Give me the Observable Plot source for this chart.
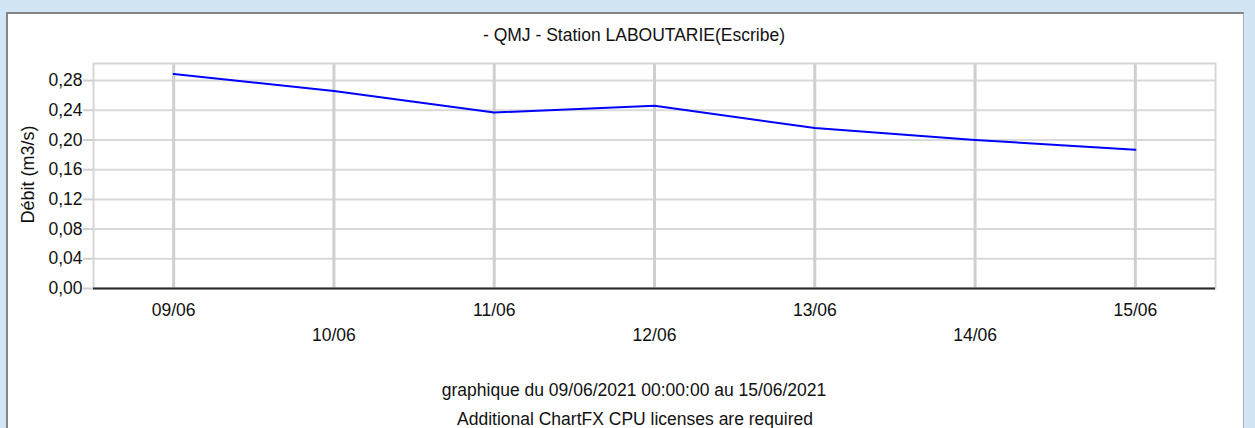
<!DOCTYPE html>
<html>
<head>
<meta charset="utf-8">
<script src="https://cdn.jsdelivr.net/npm/d3@7"></script>
<script src="https://cdn.jsdelivr.net/npm/@observablehq/plot@0.6"></script>
<style>
  html, body { margin: 0; padding: 0; }
  body { width: 1255px; height: 428px; background: #d1e5f4; position: relative; overflow: hidden;
         font-family: "Liberation Sans", Arial, sans-serif; color: #111; }
  #panel { position: absolute; left: 6px; top: 12px; width: 1238px; height: 430px; background: #fff;
           border-top: 2px solid #858585; border-left: 2px solid #858585; border-right: 1px solid #b0b0b0; box-sizing: border-box; }
  .txt { position: absolute; font-size: 17.5px; line-height: 20px; white-space: nowrap; transform: translateX(-50%); }
  #chart { position: absolute; left: 0; top: 50px; }
</style>
</head>
<body>
<div id="panel"></div>
<div class="txt" id="title" style="left:634px; top:25px;"></div>
<div id="chart"></div>
<div class="txt" id="foot1" style="left:634px; top:380px;"></div>
<div class="txt" id="foot2" style="left:635px; top:409px;"></div>
<script>
// ---- data ----
const titleText = "- QMJ - Station LABOUTARIE(Escribe)";
const yLabel = "Débit (m3/s)";
const footer1 = "graphique du 09/06/2021 00:00:00 au 15/06/2021";
const footer2 = "Additional ChartFX CPU licenses are required";
const dates = ["2021-06-09", "2021-06-10", "2021-06-11", "2021-06-12", "2021-06-13", "2021-06-14", "2021-06-15"];
const values = [0.289, 0.266, 0.237, 0.246, 0.216, 0.200, 0.187];
const yTicks = [0, 0.04, 0.08, 0.12, 0.16, 0.20, 0.24, 0.28];
const xDomain = ["2021-06-08T12:00:00Z", "2021-06-15T12:00:00Z"];
const yDomain = [0, 0.303];

document.getElementById("title").textContent = titleText;
document.getElementById("foot1").textContent = footer1;
document.getElementById("foot2").textContent = footer2;

const parse = d3.utcParse("%Y-%m-%d");
const data = dates.map((d, i) => ({date: parse(d), value: values[i]}));
const dayTicks = dates.map(parse);
const oddTicks = dayTicks.filter((d, i) => i % 2 === 0);
const evenTicks = dayTicks.filter((d, i) => i % 2 === 1);
const fmtX = d3.utcFormat("%d/%m");
const fmtY = d => d3.format(".2f")(d).replace(".", ",");

const fs = "17.5px";
const chart = Plot.plot({
  width: 1255,
  height: 300,
  marginLeft: 93,
  marginRight: 40,
  marginTop: 13,
  marginBottom: 62,
  style: {fontFamily: '"Liberation Sans", Arial, sans-serif', fontSize: fs, color: "#111", background: "transparent"},
  x: {type: "utc", domain: xDomain.map(d => new Date(d))},
  y: {domain: yDomain},
  marks: [
    Plot.gridY(yTicks, {stroke: "#d9d9d9", strokeWidth: 2, strokeOpacity: 1}),
    Plot.gridX(dayTicks, {stroke: "#cfcfcf", strokeWidth: 3, strokeOpacity: 1}),
    Plot.frame({stroke: "#d6d6d6", strokeWidth: 2}),
    Plot.ruleY([0], {stroke: "#2b2b2b", strokeWidth: 2}),
    Plot.axisY({ticks: yTicks, tickFormat: fmtY, tickSize: 10, tickPadding: 1, stroke: "#d0d0d0", strokeWidth: 2, label: null, fontSize: fs}),
    Plot.axisX({ticks: oddTicks, tickFormat: fmtX, tickSize: 0, tickPadding: 15, label: null, fontSize: fs}),
    Plot.axisX({ticks: evenTicks, tickFormat: fmtX, tickSize: 0, tickPadding: 40, label: null, fontSize: fs}),
    Plot.text([yLabel], {frameAnchor: "left", text: d => d, rotate: -90, dx: -65.5, dy: 47.5, fontSize: "18px"}),
    Plot.line(data, {x: "date", y: "value", stroke: "#0000ff", strokeWidth: 2})
  ]
});
document.getElementById("chart").appendChild(chart);
</script>
</body>
</html>
